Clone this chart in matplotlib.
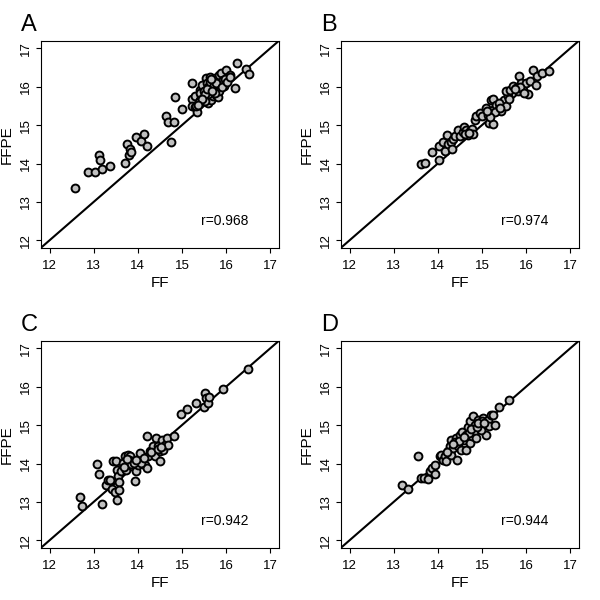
import matplotlib
matplotlib.use('Agg')
import matplotlib.pyplot as plt
import numpy as np

plt.rcParams['font.family'] = ['Liberation Sans', 'DejaVu Sans']

# panel A: FF vs FFPE
a_ff = [12.58, 12.88, 13.03, 13.13, 13.15, 13.18, 13.38, 13.70, 13.75, 13.80,
        13.83, 13.85, 13.95, 14.08, 14.14, 14.22, 14.63, 14.69, 14.76, 14.82,
        14.84, 15.00, 15.22, 15.23, 15.23, 15.30, 15.34, 15.29, 15.32, 15.40,
        15.40, 15.44, 15.47, 15.46, 15.51, 15.55, 15.56, 15.59, 15.62, 15.64,
        15.66, 15.70, 15.70, 15.76, 15.76, 15.77, 15.81, 15.81, 15.83, 15.85,
        15.89, 15.94, 15.96, 16.00, 16.04, 16.08, 16.20, 16.25, 16.45, 16.52,
        15.38, 15.42, 15.48, 15.50, 15.53, 15.58, 15.60, 15.63, 15.67, 15.72,
        15.74, 15.78, 15.52, 15.57, 15.45, 15.36, 15.65, 15.69, 15.90, 15.98,
        16.02, 16.10]
a_ffpe = [13.35, 13.77, 13.78, 14.23, 14.10, 13.87, 13.93, 14.02, 14.50, 14.22,
          14.38, 14.30, 14.68, 14.60, 14.76, 14.47, 15.23, 15.08, 14.55, 15.09,
          15.73, 15.41, 16.10, 15.68, 15.50, 15.47, 15.35, 15.75, 15.49, 15.92,
          15.66, 15.79, 15.96, 16.05, 15.74, 16.22, 16.09, 15.57, 15.83, 16.25,
          15.66, 16.18, 15.75, 16.22, 15.92, 15.79, 16.05, 15.73, 16.31, 15.88,
          16.37, 16.18, 16.02, 16.44, 16.26, 16.31, 15.98, 16.63, 16.47, 16.32,
          15.60, 15.85, 15.70, 15.90, 15.62, 15.80, 16.00, 16.12, 15.95, 16.05,
          15.85, 16.10, 15.82, 15.95, 15.68, 15.52, 16.20, 15.90, 16.00, 16.20,
          16.12, 16.26]

# panel B
b_ff = [13.61, 13.71, 13.86, 14.02, 14.03, 14.12, 14.17, 14.20, 14.23, 14.29,
        14.33, 14.35, 14.38, 14.46, 14.51, 14.57, 14.59, 14.65, 14.68, 14.72,
        14.78, 14.80, 14.85, 14.87, 14.95, 15.00, 15.10, 15.14, 15.17, 15.21,
        15.25, 15.26, 15.25, 15.32, 15.36, 15.40, 15.44, 15.47, 15.51, 15.55,
        15.59, 15.62, 15.55, 15.64, 15.70, 15.77, 15.81, 15.83, 15.89, 15.92,
        16.00, 16.04, 16.08, 16.15, 16.23, 16.24, 16.36, 16.51, 15.30, 15.38,
        15.42, 15.18, 15.12, 14.62, 14.70, 15.86, 15.74, 15.96]
b_ffpe = [13.99, 14.02, 14.31, 14.10, 14.45, 14.56, 14.32, 14.75, 14.52, 14.56,
          14.38, 14.64, 14.71, 14.88, 14.71, 14.81, 14.94, 14.88, 14.75, 14.84,
          14.90, 14.77, 15.14, 15.23, 15.31, 15.23, 15.44, 15.27, 15.05, 15.66,
          15.40, 15.68, 15.04, 15.53, 15.40, 15.50, 15.36, 15.57, 15.66, 15.49,
          15.75, 15.68, 15.88, 15.92, 16.02, 15.96, 15.88, 16.28, 16.09, 15.92,
          16.11, 15.81, 16.14, 16.44, 16.05, 16.28, 16.35, 16.41, 15.35, 15.58,
          15.45, 15.20, 15.36, 14.78, 14.80, 16.00, 15.95, 15.85]

# panel C
c_ff = [12.68, 12.74, 13.07, 13.13, 13.20, 13.28, 13.33, 13.38, 13.41, 13.48,
        13.44, 13.50, 13.52, 13.53, 13.56, 13.58, 13.57, 13.63, 13.67, 13.71,
        13.74, 13.78, 13.82, 13.86, 13.89, 13.93, 13.97, 14.01, 14.05, 14.12,
        14.16, 14.20, 14.22, 14.23, 14.27, 14.35, 14.38, 14.42, 14.46, 14.50,
        14.51, 14.56, 14.57, 14.61, 14.66, 14.68, 14.82, 14.97, 15.11, 15.32,
        15.49, 15.52, 15.55, 15.59, 15.62, 15.92, 16.49, 13.80, 13.85, 13.92,
        14.08, 14.14, 13.68, 13.76, 14.30, 14.45, 14.53, 13.95]
c_ffpe = [13.14, 12.89, 14.00, 13.72, 12.95, 13.45, 13.56, 13.58, 13.34, 13.26,
          14.06, 14.06, 13.82, 13.06, 13.67, 13.51, 13.31, 13.80, 14.02, 14.19,
          13.84, 14.23, 14.19, 13.93, 14.06, 13.54, 13.80, 13.97, 14.28, 14.10,
          13.97, 13.89, 14.71, 14.19, 14.32, 14.45, 14.19, 14.66, 14.45, 14.32,
          14.06, 14.62, 14.36, 14.49, 14.67, 14.49, 14.71, 15.30, 15.43, 15.59,
          15.47, 15.83, 15.70, 15.57, 15.74, 15.94, 16.45, 14.10, 13.98, 14.02,
          14.02, 14.15, 13.90, 14.12, 14.30, 14.38, 14.42, 14.08]

# panel D
d_ff = [13.18, 13.32, 13.56, 13.61, 13.68, 13.78, 13.82, 13.88, 13.93, 13.93,
        14.05, 14.08, 14.12, 14.16, 14.18, 14.23, 14.27, 14.31, 14.31, 14.35,
        14.38, 14.42, 14.44, 14.46, 14.50, 14.53, 14.56, 14.59, 14.63, 14.65,
        14.68, 14.72, 14.74, 14.78, 14.80, 14.83, 14.85, 14.87, 14.91, 14.95,
        15.02, 15.06, 15.10, 15.14, 15.17, 15.21, 15.26, 15.29, 15.38, 15.62,
        14.98, 15.00, 14.40, 14.48, 14.70, 14.76, 14.88, 14.92, 15.04, 14.20,
        14.34, 14.60]
d_ffpe = [13.45, 13.34, 14.19, 13.63, 13.63, 13.61, 13.80, 13.89, 13.97, 13.74,
          14.19, 14.23, 14.10, 14.19, 14.06, 14.32, 14.45, 14.23, 14.62, 14.41,
          14.54, 14.66, 14.08, 14.45, 14.75, 14.36, 14.83, 14.62, 14.36, 14.75,
          14.94, 15.10, 14.54, 14.71, 15.23, 14.83, 15.01, 14.67, 15.14, 14.97,
          15.18, 15.01, 14.75, 15.14, 14.97, 15.27, 15.27, 15.01, 15.47, 15.66,
          14.88, 15.10, 14.55, 14.60, 14.80, 14.90, 14.95, 15.05, 15.05, 14.30,
          14.50, 14.70]

labels = ['A', 'B', 'C', 'D']
rvals = ['r=0.968', 'r=0.974', 'r=0.942', 'r=0.944']
xs = [a_ff, b_ff, c_ff, d_ff]
ys = [a_ffpe, b_ffpe, c_ffpe, d_ffpe]
ticks = [12, 13, 14, 15, 16, 17]

fig = plt.figure(figsize=(6, 6), dpi=100)

for i in range(4):
    row, col = i // 2, i % 2
    left = (40.7 + 300 * col) / 600
    bottom = 1 - (248 + 300 * row) / 600
    ax = fig.add_axes([left, bottom, 238.3 / 600, 207.3 / 600])
    ax.set_xlim(11.8, 17.2)
    ax.set_ylim(11.8, 17.2)
    ax.plot([11.8, 17.2], [11.8, 17.2], color='black', lw=1.5, zorder=1)
    ax.scatter(xs[i], ys[i], s=32, facecolor='#c0c0c0', edgecolor='black',
               linewidths=1.4, zorder=2)
    ax.set_xticks(ticks)
    ax.set_yticks(ticks)
    ax.tick_params(direction='out', length=3.8, labelsize=9.5, width=0.8)
    ax.tick_params(axis='x', pad=4.5)
    ax.tick_params(axis='y', pad=2.5)
    for lab in ax.get_yticklabels():
        lab.set_rotation(90)
        lab.set_va('center')
    ax.set_xlabel('FF', fontsize=11)
    ax.set_ylabel('FFPE', fontsize=11, va='center')
    ax.xaxis.set_label_coords(0.5, -0.169)
    ax.yaxis.set_label_coords(-0.143, 0.5)
    ax.xaxis.label.set_va('center')
    for sp in ax.spines.values():
        sp.set_linewidth(0.8)
    ax.text(16.5, 12.5, rvals[i], ha='right', va='center', fontsize=10)
    fig.text((21 + 300 * col) / 600, 1 - (31 + 300 * row) / 600, labels[i],
             fontsize=17, ha='left', va='baseline')

fig.savefig('out.png', dpi=100)
